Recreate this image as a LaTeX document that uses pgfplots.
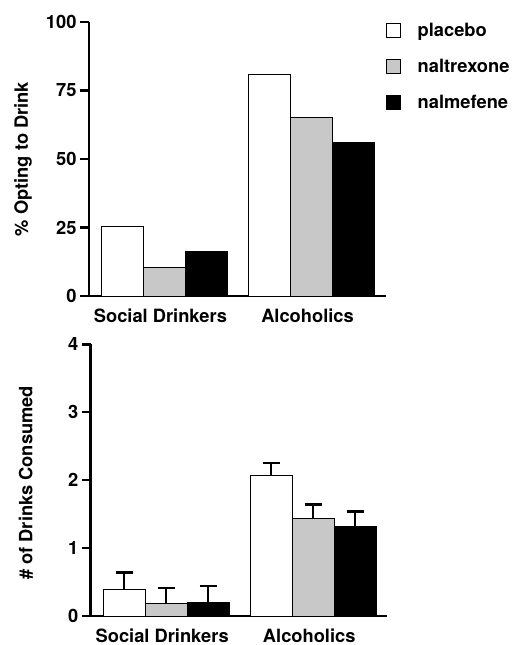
\documentclass[border=0pt]{standalone}
\usepackage{pgfplots}
\pgfplotsset{compat=1.18}
\usepackage{fontspec}
\setmainfont{TeX Gyre Heros}
\definecolor{midgray}{RGB}{200,200,200}
\begin{document}
\begin{tikzpicture}
\useasboundingbox (0bp,0bp) rectangle (513bp,-645bp);
\pgfplotsset{
  myaxis/.style={
    scale only axis,
    anchor=south west,
    width=296.5bp,
    ybar=0pt,
    bar width=42bp,
    xmin=-0.513, xmax=1.503,
    xtick={0,1},
    xticklabels={Social Drinkers, Alcoholics},
    x tick style={draw=none},
    xticklabel style={inner sep=0pt, yshift=-3.5bp, xshift=-4bp},
    axis x line*=bottom,
    axis y line*=left,
    axis line style={line width=2.5bp,-},
    tick align=outside,
    major tick length=9bp,
    y tick style={line width=2.5bp, black},
    every tick label/.append style={font=\fontsize{18.3bp}{20bp}\selectfont\bfseries},
    /pgf/number format/assume math mode=true,
    label style={font=\fontsize{18.3bp}{20bp}\selectfont\bfseries},
    clip=false,
  },
  bars/.style={draw=black, line width=1bp},
  ebars/.style={error bars/.cd, y dir=plus, y explicit,
    error bar style={line width=2.5bp, black},
    error mark options={rotate=90, mark size=8.5bp, line width=2.5bp, black}},
}
% Top panel
\begin{axis}[myaxis,
  at={(89bp,-296bp)},
  height=274bp,
  ymin=0, ymax=100,
  ytick={0,25,50,75,100},
  ylabel={\% Opting to Drink},
  ylabel style={at={(axis description cs:-0.2225,0.5)}, anchor=center},
  legend style={at={(axis description cs:1.0,1.0)}, anchor=north west, draw=none, fill=none,
     font=\fontsize{18.3bp}{20bp}\selectfont\bfseries, row sep=19bp, inner sep=0pt,
     nodes={inner sep=1bp}},
  legend cell align=left,
  legend image code/.code={\draw[#1, draw=black, line width=1bp] (0bp,-7bp) rectangle (14bp,7bp);},
]
\addplot[bars, fill=white] coordinates {(0,25.3) (1,80.8)};
\addplot[bars, fill=midgray] coordinates {(0,10.3) (1,65.2)};
\addplot[bars, fill=black] coordinates {(0,16.2) (1,56.1)};
\legend{\hspace*{16bp}placebo, \hspace*{16bp}naltrexone, \hspace*{16bp}nalmefene}
\end{axis}
% Bottom panel
\begin{axis}[myaxis,
  at={(90.7bp,-616bp)},
  height=271.7bp,
  ymin=0, ymax=4,
  ytick={0,1,2,3,4},
  ylabel={\# of Drinks Consumed},
  ylabel style={at={(axis description cs:-0.219,0.49)}, anchor=center},
]
\addplot[bars, fill=white, ebars]
  coordinates {(0,0.39) +- (0,0.25) (1,2.07) +- (0,0.18)};
\addplot[bars, fill=midgray, ebars]
  coordinates {(0,0.18) +- (0,0.23) (1,1.43) +- (0,0.21)};
\addplot[bars, fill=black, ebars]
  coordinates {(0,0.20) +- (0,0.24) (1,1.32) +- (0,0.22)};
\end{axis}
\end{tikzpicture}
\end{document}
